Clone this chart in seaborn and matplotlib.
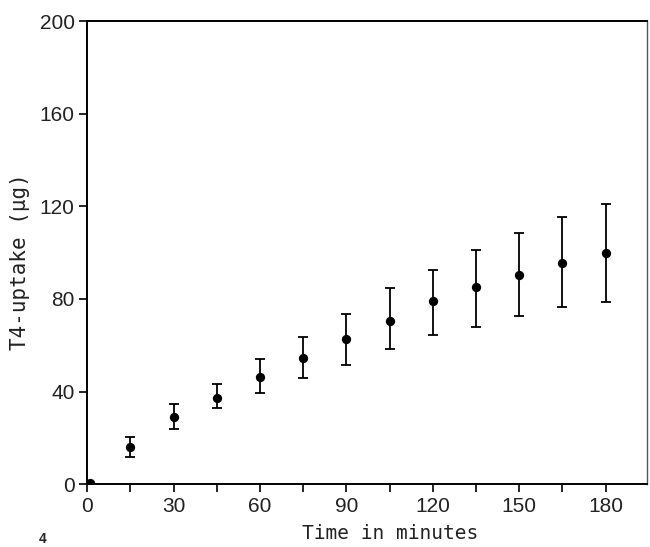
import matplotlib
matplotlib.use("Agg")
import matplotlib.pyplot as plt
import seaborn as sns
import pandas as pd

time_min = [1, 15, 30, 45, 60, 75, 90, 105, 120, 135, 150, 165, 180]
uptake = [0.5, 16, 29, 37, 46.5, 54.5, 62.5, 70.7, 79, 85, 90.5, 95.5, 100]
err_upper = [0.5, 20.5, 34.7, 43.2, 54, 63.5, 73.5, 84.8, 92.7, 101, 108.5, 115.5, 121]
err_lower = [0.5, 11.5, 23.6, 32.9, 39.3, 45.7, 51.3, 58.3, 64.4, 67.9, 72.8, 76.7, 78.8]
x_ticks = [0, 30, 60, 90, 120, 150, 180]
y_ticks = [0, 40, 80, 120, 160, 200]

df = pd.DataFrame({"t": time_min, "y": uptake, "hi": err_upper, "lo": err_lower})

sns.set_style("white")
plt.rcParams["font.family"] = ["Liberation Sans", "DejaVu Sans"]

fig = plt.figure(figsize=(6.5, 5.47), dpi=100)
ax = fig.add_axes([0.134, 0.115, 0.862, 0.846])

yerr = [df["y"] - df["lo"], df["hi"] - df["y"]]
ax.errorbar(df["t"], df["y"], yerr=yerr, fmt="none", ecolor="black",
            elinewidth=1.3, capsize=3.5, capthick=1.3)
sns.scatterplot(data=df, x="t", y="y", ax=ax, color="black", s=45,
                edgecolor="black", linewidth=0, zorder=5)

ax.set_xlim(0, 194.5)
ax.set_ylim(0, 200)
all_x = list(range(0, 195, 15))
ax.set_xticks(all_x)
ax.set_xticklabels([str(v) if v in x_ticks else "" for v in all_x])
ax.set_yticks(y_ticks)
ax.set_yticklabels([str(v) for v in y_ticks])
ax.tick_params(axis="both", direction="out", length=6, width=1.2,
               labelsize=15, color="black", labelcolor="#222222", pad=3,
               bottom=True, left=True)
for side, sp in ax.spines.items():
    sp.set_color("black")
    sp.set_linewidth(1.4)
ax.spines["right"].set_linewidth(1.0)
ax.spines["right"].set_color("#555555")

ax.set_xlabel("Time in minutes", fontsize=14, color="#222222",
              family=["DejaVu Sans Mono", "DejaVu Sans"], va="center")
ax.xaxis.set_label_coords(0.54, -0.106)
ax.set_ylabel("T4-uptake (\u00b5g)", fontsize=15, color="#222222",
              family=["DejaVu Sans Mono", "DejaVu Sans"], va="center")
ax.yaxis.set_label_coords(-0.12, 0.48)

fig.text(0.06, 0.002, "4", fontsize=10, fontweight="bold", va="bottom", ha="left")

fig.savefig("out.png", dpi=100)
